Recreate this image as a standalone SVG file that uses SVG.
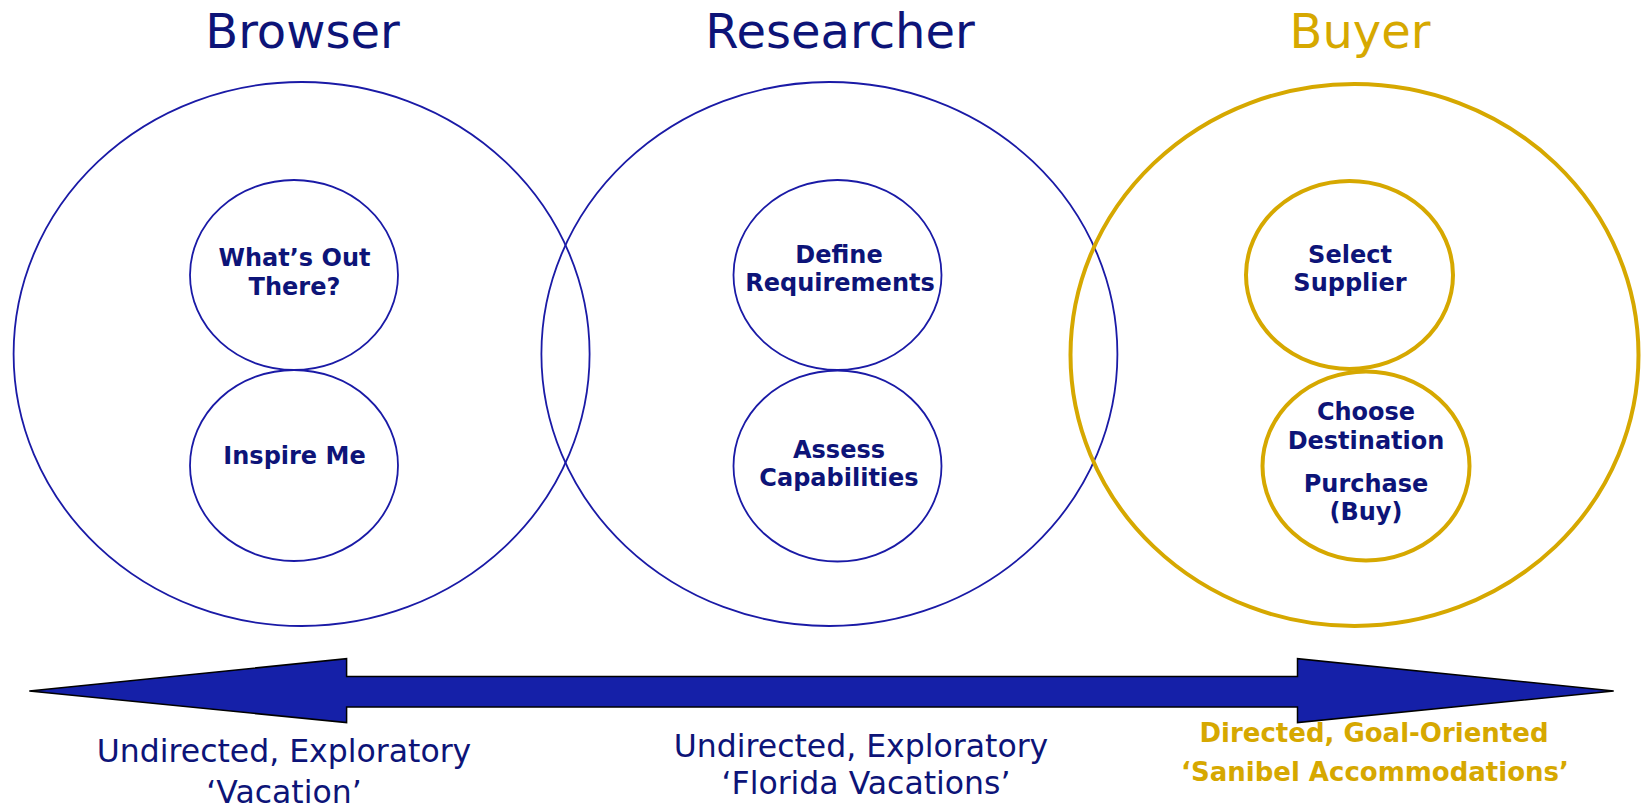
<svg xmlns="http://www.w3.org/2000/svg" width="1642" height="809" viewBox="0 0 1642 809">
<style>
.title{font-family:"DejaVu Sans","Liberation Sans",sans-serif;font-size:48px;text-anchor:middle}
.navy{fill:#0d1478}
.gold{fill:#d6a800}
.lbl{font-family:"DejaVu Sans","Liberation Sans",sans-serif;font-size:24px;font-weight:bold;text-anchor:middle;fill:#0d1478}
.cap{font-family:"DejaVu Sans","Liberation Sans",sans-serif;font-size:31.5px;text-anchor:middle;fill:#0d1478}
.capb{font-family:"DejaVu Sans","Liberation Sans",sans-serif;font-size:26px;font-weight:bold;text-anchor:middle;fill:#d6a800}
.bc{fill:none;stroke:#1a1aa6;stroke-width:1.8}
.gc{fill:none;stroke:#d6a800;stroke-width:4}
</style>
<rect width="1642" height="809" fill="#ffffff"/>
<g id="browser">
<ellipse class="bc" cx="301.6" cy="354" rx="288" ry="272"/>
<text class="title navy" x="302.5" y="48.3">Browser</text>
</g>
<g id="researcher">
<ellipse class="bc" cx="829.4" cy="354" rx="288" ry="272"/>
<text class="title navy" x="840" y="48.3">Researcher</text>
</g>
<g id="buyer">
<ellipse class="gc" cx="1354.5" cy="355" rx="284" ry="271"/>
<text class="title gold" x="1360" y="48.3">Buyer</text>
</g>
<g id="whats-out-there">
<ellipse class="bc" cx="294" cy="275" rx="104" ry="95"/>
<text class="lbl" x="294.5" y="266">What’s Out</text>
<text class="lbl" x="294.5" y="295">There?</text>
</g>
<g id="inspire-me">
<ellipse class="bc" cx="294" cy="465.5" rx="104" ry="95.5"/>
<text class="lbl" x="294.5" y="464">Inspire Me</text>
</g>
<g id="define-requirements">
<ellipse class="bc" cx="837.5" cy="275" rx="104" ry="95"/>
<text class="lbl" x="839" y="262.7">Define</text>
<text class="lbl" x="840" y="291">Requirements</text>
</g>
<g id="assess-capabilities">
<ellipse class="bc" cx="837.5" cy="466" rx="104" ry="95.5"/>
<text class="lbl" x="839" y="458.3">Assess</text>
<text class="lbl" x="839" y="486">Capabilities</text>
</g>
<g id="select-supplier">
<ellipse class="gc" cx="1349.5" cy="275" rx="103.5" ry="94"/>
<text class="lbl" x="1350" y="262.7">Select</text>
<text class="lbl" x="1350" y="291">Supplier</text>
</g>
<g id="choose-destination">
<ellipse class="gc" cx="1366" cy="466" rx="103.5" ry="94.5"/>
<text class="lbl" x="1366" y="420">Choose</text>
<text class="lbl" x="1366" y="448.7">Destination</text>
<text class="lbl" x="1366" y="492.3">Purchase</text>
<text class="lbl" x="1366" y="520">(Buy)</text>
</g>
<g id="connectors">
<polygon points="29.3,691 346.6,658.7 346.6,676.5 1297.5,676.5 1297.5,658.7 1613.7,691 1297.5,722.6 1297.5,706.9 346.6,706.9 346.6,722.6" fill="#1520a8" stroke="#000000" stroke-width="1.5" stroke-linejoin="miter"/>
</g>
<g id="labels">
<text class="cap" x="284" y="761.7">Undirected, Exploratory</text>
<text class="cap" x="284" y="803">‘Vacation’</text>
<text class="cap" x="861" y="757.3">Undirected, Exploratory</text>
<text class="cap" x="866" y="794">‘Florida Vacations’</text>
<text class="capb" x="1374" y="742.3">Directed, Goal-Oriented</text>
<text class="capb" x="1375" y="780.7">‘Sanibel Accommodations’</text>
</g>
</svg>
